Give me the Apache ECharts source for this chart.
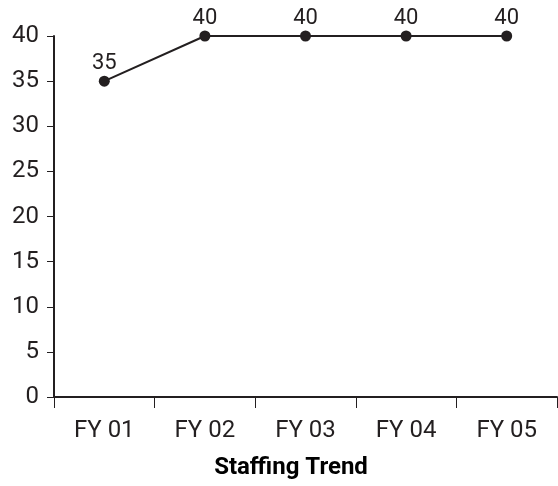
<!DOCTYPE html>
<html><head><meta charset="utf-8">
<script src="https://cdn.jsdelivr.net/npm/echarts@6/dist/echarts.min.js"></script>
<style>html,body{margin:0;padding:0;background:#fff}#c{width:558px;height:486px}</style>
</head><body><div id="c"></div>
<script>
var categories = ['FY 01','FY 02','FY 03','FY 04','FY 05'];
var staffing = [35, 40, 40, 40, 40];
var titleText = 'Staffing Trend';
var FONT = "'Liberation Sans Narrow', 'Roboto', sans-serif";
var INK = '#231f20';
var chart = echarts.init(document.getElementById('c'), null, {renderer:'canvas'});
chart.setOption({
  animation:false,
  backgroundColor:'#fff',
  title:{text:titleText, left:286, top:451, textAlign:'center',
    textStyle:{fontFamily:FONT, fontSize:24, fontWeight:'bold', color:'#000'}},
  grid:{left:54, right:1, top:36, bottom:89, containLabel:false},
  xAxis:{type:'category', data:categories, boundaryGap:true,
    axisLine:{lineStyle:{color:INK, width:2}},
    axisTick:{show:true, length:11, lineStyle:{color:INK, width:1}},
    axisLabel:{fontFamily:FONT, fontSize:24, color:INK, margin:22},
    splitLine:{show:false}},
  yAxis:{type:'value', min:0, max:40, interval:5,
    axisLine:{show:true, lineStyle:{color:INK, width:2}},
    axisTick:{show:true, length:7, lineStyle:{color:INK, width:1}},
    axisLabel:{fontFamily:FONT, fontSize:24, color:INK, margin:15},
    splitLine:{show:false}},
  series:[{type:'line', data:staffing, symbol:'circle', symbolSize:11,
    lineStyle:{color:INK, width:2}, itemStyle:{color:INK},
    label:{show:true, position:'top', distance:1, fontFamily:FONT, fontSize:22, color:INK}}]
});
</script></body></html>
